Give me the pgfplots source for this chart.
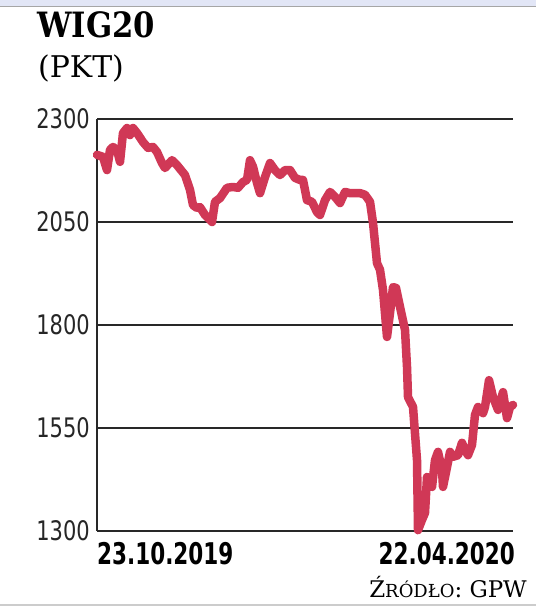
\documentclass[border=0pt]{standalone}
\usepackage{fontspec}
\usepackage{pgfplots}
\pgfplotsset{compat=1.18}
\setmainfont{DejaVu Serif}
\newfontfamily\tickfont[FakeStretch=0.78]{DejaVu Sans}
\newfontfamily\datefont[FakeStretch=0.72]{DejaVu Sans}[BoldFont={DejaVu Sans Bold}]
\newfontfamily\titlefont[FakeStretch=0.88]{DejaVu Serif}
\definecolor{wigred}{RGB}{208,56,86}
\definecolor{gridc}{RGB}{40,40,40}
\definecolor{stripc}{RGB}{226,230,246}
\begin{document}
\begin{tikzpicture}[x=1bp,y=1bp]
\path[use as bounding box] (0,0) rectangle (536,608);
\fill[white] (0,0) rectangle (536,608);
\fill[stripc] (0,602) rectangle (536,608);
\draw[black!35,line width=1.2bp] (0,601.5) -- (536,601.5);
\draw[black!20,line width=1.5bp] (0,3) -- (536,3);
\begin{axis}[
  at={(97bp,77bp)}, anchor=south west,
  scale only axis, width=416bp, height=412bp,
  xmin=0, xmax=416, ymin=1300, ymax=2300,
  axis line style={draw=none},
  clip=false,
  ytick={1300,1550,1800,2050,2300},
  xtick=\empty,
  major tick length=0pt,
  yticklabel style={font=\tickfont\fontsize{27}{27}\selectfont, inner sep=0pt, anchor=east, xshift=-7bp, text=black!85},
  /pgf/number format/assume math mode=true,
  /pgf/number format/1000 sep={},
]
\foreach \v in {1300,1550,1800,2050,2300}{
  \edef\tmp{\noexpand\draw[gridc, line width=1.6bp] (axis cs:0,\v) -- (axis cs:416,\v);}
  \tmp
}
\draw[gridc, line width=1.6bp] (axis cs:0,1300) -- (axis cs:0,2300);
\addplot[wigred, line width=8.5bp, line join=round, line cap=round, mark=none] coordinates {
(0,2213) (6,2208) (10,2176) (13,2225) (16,2232) (20,2225) (23,2196) (26,2266) (30,2278) (33,2261)
(36,2278) (40,2266) (46,2244) (51,2230) (56,2232) (60,2220) (65,2193) (68,2181) (75,2200) (80,2188)
(88,2164) (93,2128) (96,2091) (100,2084) (103,2086) (108,2067) (115,2050) (118,2099) (123,2108) (130,2133)
(136,2135) (141,2133) (146,2147) (150,2152) (153,2200) (156,2184) (160,2145) (163,2120) (168,2159) (173,2193)
(178,2176) (183,2164) (188,2176) (193,2176) (198,2157) (203,2152) (206,2152) (210,2103) (215,2099) (220,2074)
(223,2067) (228,2103) (233,2123) (238,2111) (243,2096) (248,2123) (253,2120) (258,2120) (263,2120) (268,2116)
(273,2099) (276,2048) (280,1950) (283,1934) (286,1885) (290,1771) (293,1829) (296,1892) (299,1890) (303,1844)
(308,1788) (310,1698) (311,1625) (316,1601) (320,1472) (321,1302) (325,1327) (328,1344) (330,1431) (333,1417)
(335,1407) (338,1472) (341,1492) (345,1448) (346,1407) (350,1455) (353,1492) (356,1480) (361,1484) (365,1514)
(368,1497) (371,1484) (375,1509) (378,1582) (381,1601) (386,1586) (388,1601) (392,1666) (396,1625) (401,1594)
(406,1637) (410,1574) (413,1601) (416,1606)
};
\end{axis}
\node[anchor=base west, inner sep=0pt] at (37,570) {\titlefont\bfseries\fontsize{35}{35}\selectfont WIG20};
\node[anchor=base west, inner sep=0pt] at (38,530) {\fontsize{30}{30}\selectfont (PKT)};
\node[anchor=base west, inner sep=0pt] at (97,43) {\datefont\bfseries\fontsize{30}{30}\selectfont 23.10.2019};
\node[anchor=base east, inner sep=0pt] at (515,43) {\datefont\bfseries\fontsize{30}{30}\selectfont 22.04.2020};
\node[anchor=base east, inner sep=0pt] at (527,10) {\fontsize{23}{23}\selectfont Ź\fontsize{18}{18}\selectfont RÓDŁO\fontsize{23}{23}\selectfont: GPW};
\end{tikzpicture}
\end{document}
